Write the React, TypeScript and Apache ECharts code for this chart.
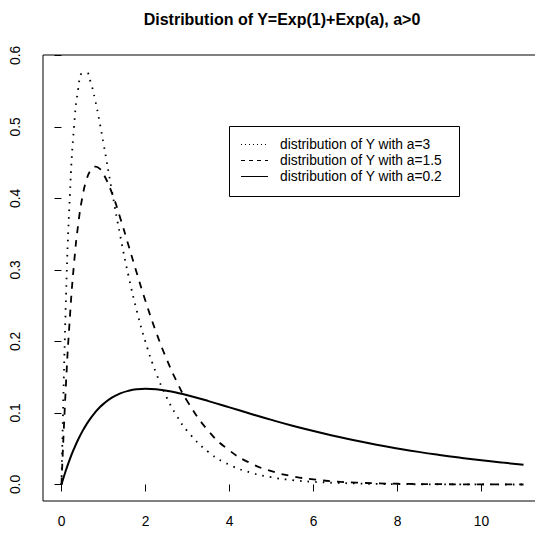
import React, { useEffect, useRef } from "react";
import * as echarts from "echarts";

// Values
const xs = [0, 0.1, 0.2, 0.3, 0.4, 0.5, 0.6, 0.7, 0.8, 0.9, 1.0, 1.2, 1.4, 1.6, 1.8, 2.0, 2.25, 2.5, 2.75, 3.0, 3.5, 4, 4.5, 5, 5.5, 6, 6.5, 7, 7.5, 8, 8.5, 9, 9.5, 10, 10.5, 11];
const densA3 = [0, 0.246, 0.4049, 0.5014, 0.5537, 0.5751, 0.5753, 0.5612, 0.5379, 0.509, 0.4771, 0.4108, 0.3474, 0.2905, 0.2412, 0.1993, 0.1563, 0.1223, 0.0955, 0.0745, 0.0453, 0.0275, 0.0167, 0.0101, 0.0061, 0.0037, 0.0023, 0.0014, 0.0008, 0.0005, 0.0003, 0.0002, 0.0001, 0.0001, 0.0, 0.0];
const densA15 = [0, 0.1324, 0.2337, 0.3096, 0.3645, 0.4025, 0.4267, 0.4399, 0.4444, 0.442, 0.4342, 0.4077, 0.3724, 0.3335, 0.2943, 0.2566, 0.2135, 0.1757, 0.1433, 0.116, 0.0748, 0.0475, 0.0298, 0.0186, 0.0115, 0.0071, 0.0043, 0.0027, 0.0016, 0.001, 0.0006, 0.0004, 0.0002, 0.0001, 0.0001, 0.0];
const densA02 = [0, 0.0188, 0.0355, 0.0502, 0.0632, 0.0746, 0.0845, 0.0932, 0.1007, 0.1072, 0.1127, 0.1214, 0.1273, 0.1311, 0.1331, 0.1337, 0.1331, 0.1311, 0.1283, 0.1248, 0.1166, 0.1078, 0.0989, 0.0903, 0.0822, 0.0747, 0.0678, 0.0614, 0.0556, 0.0504, 0.0456, 0.0413, 0.0374, 0.0338, 0.0306, 0.0277];
const seriesNames = [
  "distribution of Y with a=3",
  "distribution of Y with a=1.5",
  "distribution of Y with a=0.2",
];
const xTicks = [0, 2, 4, 6, 8, 10];
const yTicks = [0, 0.1, 0.2, 0.3, 0.4, 0.5, 0.6];
const titleText = "Distribution of Y=Exp(1)+Exp(a), a>0";

const FONT = "'Liberation Sans', Arial, Helvetica, sans-serif";
const FS = 13.8;

export default function App() {
  const ref = useRef<HTMLDivElement>(null);

  useEffect(() => {
    if (!ref.current) return;
    const chart = echarts.init(ref.current, null, { renderer: "svg" });

    const mk = (ys: number[]) => xs.map((x, i) => [x, ys[i]]);
    const lineTypes: any[] = [[1.6, 6], [7, 7], "solid"];
    const lineWidths = [1.8, 1.8, 2];
    const legendTypes: any[] = [[1, 3], [4, 4], "solid"];
    const allData = [densA3, densA15, densA02];

    const legendX = 229;
    const legendY = 126;
    const rowYs = [144, 160, 176];

    const legendChildren: any[] = [
      {
        type: "rect",
        shape: { x: legendX + 0.5, y: legendY + 0.5, width: 230, height: 70 },
        style: { fill: "#fff", stroke: "#000", lineWidth: 1 },
      },
    ];
    seriesNames.forEach((name, i) => {
      legendChildren.push({
        type: "line",
        shape: { x1: 241, y1: rowYs[i] + 0.5, x2: 268, y2: rowYs[i] + 0.5 },
        style: { stroke: "#000", lineWidth: 1, lineDash: legendTypes[i] === "solid" ? null : legendTypes[i] },
      });
      legendChildren.push({
        type: "text",
        x: 280,
        y: rowYs[i] + 0.5,
        style: {
          text: name,
          fill: "#000",
          font: `${FS}px ${FONT}`,
          textVerticalAlign: "middle",
          verticalAlign: "middle",
          textAlign: "left",
        },
      });
    });

    chart.setOption({
      animation: false,
      backgroundColor: "#fff",
      title: {
        text: titleText,
        left: 282,
        top: 11,
        padding: 0,
        textAlign: "center",
        textStyle: { fontSize: 16, fontWeight: "bold", color: "#000", fontFamily: FONT },
      },
      grid: {
        left: 43,
        top: 55,
        width: 499,
        height: 446,
        show: true,
        borderColor: "#000",
        borderWidth: 1,
        backgroundColor: "transparent",
        containLabel: false,
        outerBoundsMode: "none",
      },
      xAxis: {
        type: "value",
        min: -0.44,
        max: 11.44,
        axisLine: { show: false },
        axisTick: { show: true, length: 7, customValues: xTicks, lineStyle: { color: "#000", width: 1 } },
        axisLabel: {
          customValues: xTicks,
          margin: 13,
          fontSize: FS,
          color: "#000",
          fontFamily: FONT,
          formatter: (v: number) => String(v),
        },
        splitLine: { show: false },
      },
      yAxis: {
        type: "value",
        min: -0.0231,
        max: 0.6005,
        axisLine: { show: false },
        axisTick: { show: true, length: 7, customValues: yTicks, lineStyle: { color: "#000", width: 1 } },
        axisLabel: {
          customValues: yTicks,
          rotate: 90,
          margin: 21,
          fontSize: FS,
          color: "#000",
          fontFamily: FONT,
          formatter: (v: number) => v.toFixed(1),
        },
        splitLine: { show: false },
      },
      graphic: [{ type: "group", children: legendChildren, z: 100 }],
      series: allData.map((ys, i) => ({
        name: seriesNames[i],
        type: "line",
        data: mk(ys),
        smooth: true,
        symbol: "none",
        lineStyle: { color: "#000", width: lineWidths[i], type: lineTypes[i], cap: "butt" },
      })),
    });

    return () => chart.dispose();
  }, []);

  return (
    <div
      ref={ref}
      style={{ position: "absolute", left: 0, top: 0, width: 535, height: 534 }}
    />
  );
}
